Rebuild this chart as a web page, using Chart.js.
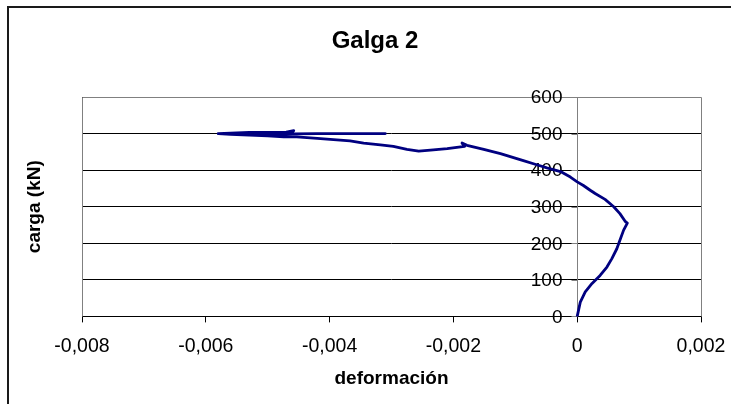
<!DOCTYPE html>
<html>
<head>
<meta charset="utf-8">
<script src="https://cdn.jsdelivr.net/npm/chart.js@4.4.0/dist/chart.umd.min.js"></script>
<style>
  html, body { margin: 0; padding: 0; background: #ffffff; }
  #wrap { position: relative; width: 731px; height: 404px; }
</style>
</head>
<body>
<div id="wrap"><canvas id="c" width="731" height="404"></canvas></div>
<script>
const chartTitle = 'Galga 2';
const xAxisTitle = 'deformación';
const yAxisTitle = 'carga (kN)';
const xTicks = [-0.008, -0.006, -0.004, -0.002, 0, 0.002];
const yTicks = [0, 100, 200, 300, 400, 500, 600];

// deformación (strain) readings
const deformacion = [
  0, 0.00005, 0.00013, 0.00024, 0.00037, 0.00048, 0.00056, 0.00064, 0.00069, 0.00075,
  0.00081, 0.00078, 0.00069, 0.00059, 0.00045, 0.00029, 0.00021, 0.0001, 0.0, -0.00011,
  -0.00027, -0.00049, -0.00068, -0.00087, -0.00124, -0.00151, -0.00178, -0.00186, -0.00182, -0.0021,
  -0.00237, -0.00256, -0.00275, -0.00297, -0.00318, -0.00345, -0.00367, -0.00399, -0.0042, -0.00453,
  -0.00474, -0.0050, -0.0053, -0.0056, -0.0058, -0.0056, -0.0053, -0.0050, -0.0047, -0.00458,
  -0.00462, -0.0050, -0.0052, -0.0049, -0.0046, -0.0042, -0.0036, -0.0031
];
// carga (kN) readings
const carga = [
  0, 39, 67, 90, 112, 135, 158, 185, 208, 236,
  255, 259, 281, 300, 320, 336, 345, 358, 368, 381,
  396, 406, 416, 426, 445, 457, 468, 474, 465, 459,
  455, 452, 457, 465, 469, 474, 480, 484, 487, 491,
  491, 494, 496, 498, 500, 501, 503, 503, 504, 508,
  502, 499, 497, 497, 499, 500, 500, 500
];

const points = deformacion.map((x, i) => ({ x: x, y: carga[i] }));

const FONT = '"Liberation Sans", Arial, sans-serif';

function fmt(v) {
  if (Math.abs(v) < 1e-12) return '0';
  return v.toFixed(3).replace('.', ',');
}

const excelPlugin = {
  id: 'excelDecor',
  beforeDraw(chart) {
    const ctx = chart.ctx;
    ctx.save();
    ctx.fillStyle = '#ffffff';
    ctx.fillRect(0, 0, chart.width, chart.height);
    // outer chart frame (right/bottom edges fall outside the picture)
    ctx.strokeStyle = '#1a1a1a';
    ctx.lineWidth = 2;
    ctx.strokeRect(8, 7, chart.width + 20, chart.height + 20);
    ctx.restore();
  },
  beforeDatasetsDraw(chart) {
    const ctx = chart.ctx;
    const a = chart.chartArea;
    const xs = chart.scales.x;
    const ys = chart.scales.y;
    ctx.save();
    // plot area border (left, top, right) in grey
    ctx.strokeStyle = '#808080';
    ctx.lineWidth = 1;
    ctx.beginPath();
    ctx.moveTo(Math.round(a.left) + 0.5, Math.round(a.bottom) + 0.5);
    ctx.lineTo(Math.round(a.left) + 0.5, Math.round(a.top) + 0.5);
    ctx.lineTo(Math.round(a.right) + 0.5, Math.round(a.top) + 0.5);
    ctx.lineTo(Math.round(a.right) + 0.5, Math.round(a.bottom) + 0.5);
    ctx.stroke();
    // vertical value axis crossing at x = 0
    const x0 = Math.round(xs.getPixelForValue(0)) + 0.5;
    ctx.beginPath();
    ctx.moveTo(x0, a.top);
    ctx.lineTo(x0, a.bottom);
    ys.ticks.forEach(t => {
      const py = Math.round(ys.getPixelForValue(t.value)) + 0.5;
      ctx.moveTo(x0 - 6, py);
      ctx.lineTo(x0, py);
    });
    ctx.stroke();
    // value labels next to that axis
    ctx.fillStyle = '#000000';
    ctx.font = '19px ' + FONT;
    ctx.textAlign = 'right';
    ctx.textBaseline = 'middle';
    ys.ticks.forEach(t => {
      const py = ys.getPixelForValue(t.value);
      ctx.fillText(String(t.value), x0 - 15, py + 1);
    });
    ctx.restore();
  },
  afterDraw(chart) {
    const ctx = chart.ctx;
    ctx.save();
    ctx.fillStyle = '#000000';
    ctx.font = 'bold 24px ' + FONT;
    ctx.textAlign = 'center';
    ctx.textBaseline = 'middle';
    ctx.fillText(chartTitle, 375, 41);
    ctx.restore();
  }
};

new Chart(document.getElementById('c'), {
  type: 'scatter',
  data: {
    datasets: [{
      label: 'Galga 2',
      data: points,
      showLine: true,
      borderColor: '#000080',
      backgroundColor: '#000080',
      borderWidth: 2.8,
      pointRadius: 0,
      pointHoverRadius: 0,
      tension: 0,
      borderJoinStyle: 'round',
      borderCapStyle: 'round'
    }]
  },
  options: {
    responsive: false,
    animation: false,
    devicePixelRatio: 1,
    layout: { padding: { left: 23.6, right: 30, top: 97, bottom: 13.6 } },
    plugins: {
      legend: { display: false },
      tooltip: { enabled: false },
      title: { display: false }
    },
    scales: {
      x: {
        type: 'linear',
        position: 'bottom',
        min: -0.008,
        max: 0.002,
        afterBuildTicks(scale) { scale.ticks = xTicks.map(v => ({ value: v })); },
        afterFit(scale) { scale.paddingLeft = 0; scale.paddingRight = 0; },
        ticks: {
          callback: v => fmt(v),
          font: { family: FONT, size: 19.5 },
          color: '#000000',
          padding: 12.6,
          maxRotation: 0,
          autoSkip: false
        },
        grid: {
          display: true,
          drawOnChartArea: false,
          drawTicks: true,
          tickLength: 6,
          color: '#000000',
          lineWidth: 1
        },
        border: { display: true, color: '#000000', width: 1 },
        title: {
          display: true,
          text: xAxisTitle,
          font: { family: FONT, size: 19, weight: 'bold' },
          color: '#000000',
          padding: { top: -3.4, bottom: 0 }
        }
      },
      y: {
        type: 'linear',
        position: 'left',
        min: 0,
        max: 600,
        afterBuildTicks(scale) { scale.ticks = yTicks.map(v => ({ value: v })); },
        ticks: { display: false },
        grid: {
          display: true,
          drawTicks: false,
          color: '#000000',
          lineWidth: 1
        },
        border: { display: false },
        title: {
          display: true,
          text: yAxisTitle,
          font: { family: FONT, size: 19, weight: 'bold' },
          color: '#000000',
          padding: { top: 0, bottom: 35.6 }
        }
      }
    }
  },
  plugins: [excelPlugin]
});
</script>
</body>
</html>
